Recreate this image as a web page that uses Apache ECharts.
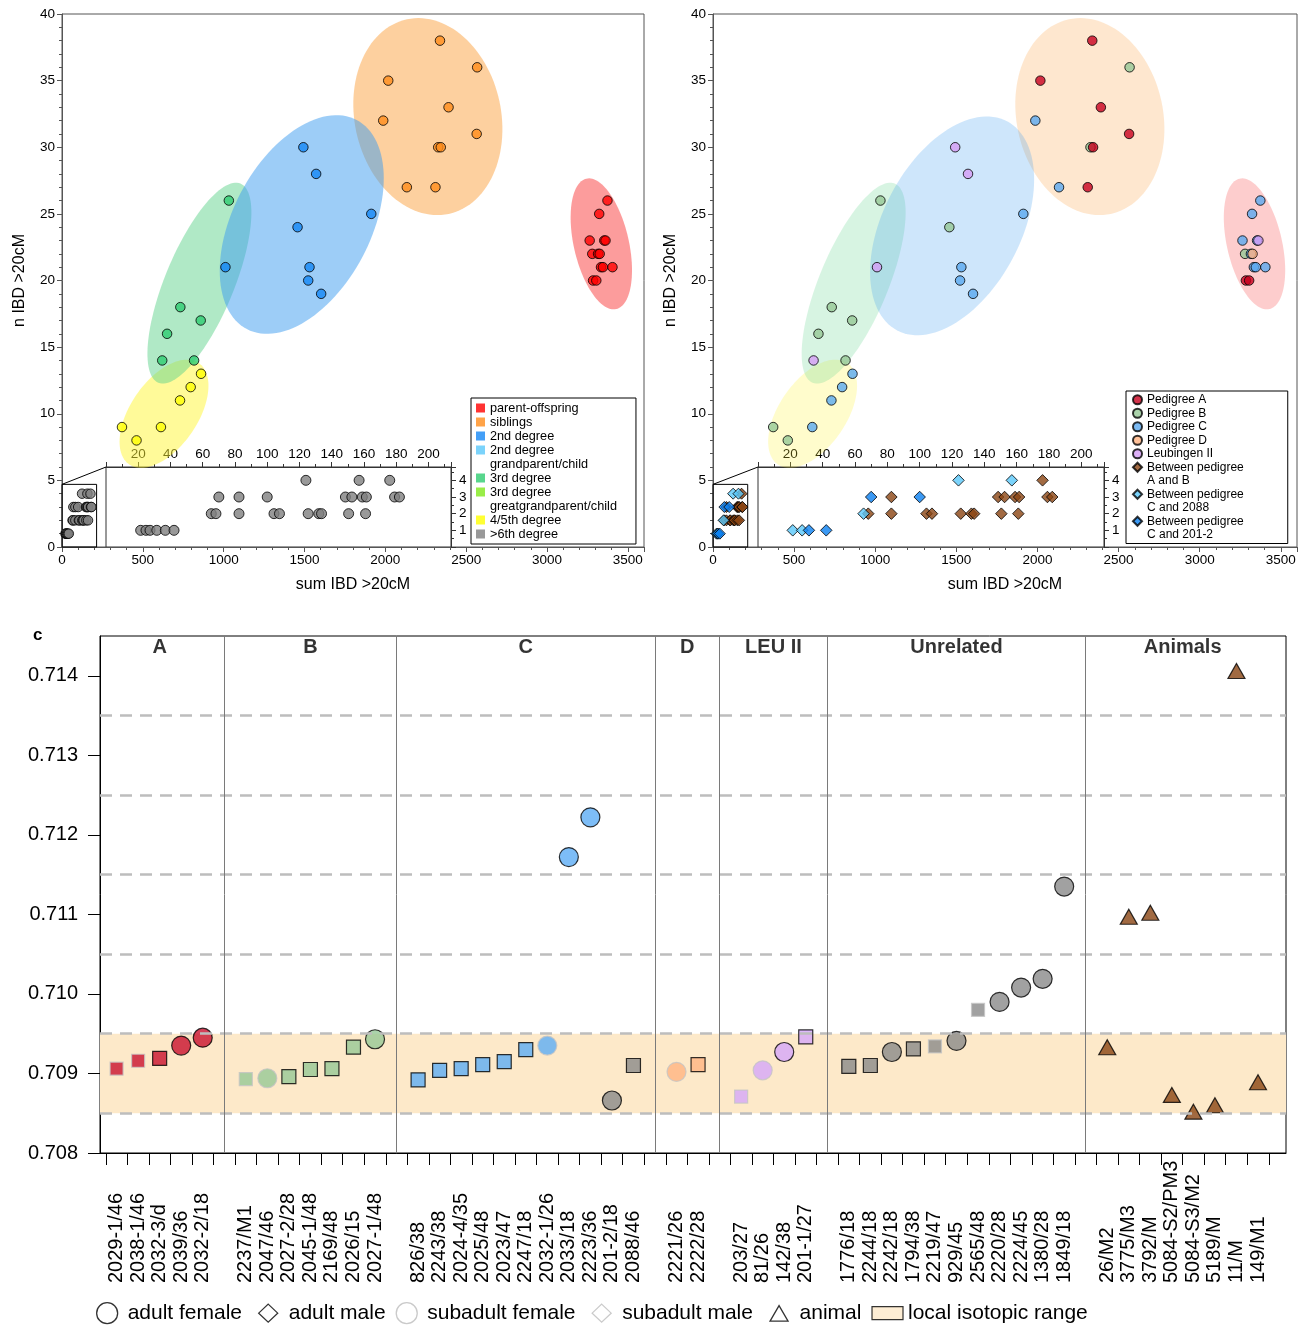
<!DOCTYPE html>
<html>
<head>
<meta charset="utf-8">
<title>IBD sharing and strontium isotopes</title>
<script src="https://cdn.jsdelivr.net/npm/echarts@6/dist/echarts.min.js"></script>
<style>
  html, body { margin: 0; padding: 0; background: #fff; }
  #main { width: 1306px; height: 1325px; }
</style>
</head>
<body>
<div id="main"></div>
<script>
var FONT = '"Liberation Sans", Arial, Helvetica, sans-serif';

// ---------- panels a / b : pairwise IBD sharing ----------
var pairSum = [3374, 3323, 3264, 3354, 3362, 3280, 3316, 3326, 3334, 3346, 3405, 3285, 3305,
  2338, 2568, 2018, 2391, 1987, 2565, 2327, 2343, 2133, 2310,
  1493, 1572, 1913, 1457, 1011, 1531, 1523, 1603,
  1032, 732, 858, 650, 620, 817,
  860, 796, 730, 371, 612, 461,
  21.5, 24.8, 27.3, 31.5, 36.8, 42.2,
  65.3, 68.2, 82.5, 104.2, 107.6, 125.4, 132, 133.7, 150.5, 161,
  70, 82.5, 100, 148.5, 152.5, 159, 161.5, 179, 182,
  124, 157, 176];
var pairN = [26, 25, 23, 23, 23, 22, 22, 22, 21, 21, 21, 20, 20,
  38, 36, 35, 33, 32, 31, 30, 30, 27, 27,
  30, 28, 25, 24, 21, 21, 20, 19,
  26, 18, 17, 16, 14, 14,
  13, 12, 11, 9, 9, 8,
  1, 1, 1, 1, 1, 1,
  2, 2, 2, 2, 2, 2, 2, 2, 2, 2,
  3, 3, 3, 3, 3, 3, 3, 3, 3,
  4, 4, 4];
var pairDegree = ['po', 'po', 'po', 'po', 'po', 'po', 'po', 'po', 'po', 'po', 'po', 'po', 'po',
  'sib', 'sib', 'sib', 'sib', 'sib', 'sib', 'sib', 'sib', 'sib', 'sib',
  '2nd', '2nd', '2nd', '2nd', '2nd', '2nd', '2nd', '2nd',
  '3rd', '3rd', '3rd', '3rd', '3rd', '3rd',
  '45', '45', '45', '45', '45', '45',
  '6', '6', '6', '6', '6', '6',
  '6', '6', '6', '6', '6', '6', '6', '6', '6', '6',
  '6', '6', '6', '6', '6', '6', '6', '6', '6',
  '6', '6', '6'];
var pairPedigree = ['C', 'C', 'C', 'C', 'L', 'B', 'C', 'D', 'C', 'C', 'C', 'A', 'A',
  'A', 'B', 'A', 'A', 'C', 'A', 'B', 'A', 'C', 'A',
  'L', 'L', 'C', 'B', 'L', 'C', 'C', 'C',
  'B', 'B', 'B', 'B', 'L', 'B',
  'C', 'C', 'C', 'B', 'C', 'B',
  'C2088', '', 'C2088', 'C201', '', 'C201',
  'C2088', 'AB', 'AB', 'AB', 'AB', 'AB', 'AB', 'AB', 'AB', 'AB',
  'C201', 'AB', 'C201', 'AB', 'AB', 'AB', 'AB', 'AB', 'AB',
  'C2088', 'C2088', 'AB'];

var degreeKeys = ['po', 'sib', '2nd', '2gp', '3rd', '3ggp', '45', '6'];
var degreeNames = ['parent-offspring', 'siblings', '2nd degree', '2nd degree#gp', '3rd degree',
  '3rd degree#ggp', '4/5th degree', '>6th degree'];
var degreeColours = ['#ff0000', '#ff8c1a', '#1487f5', '#5ac8fa', '#2ecc71', '#80e81a', '#ffff00', '#808080'];

// drawing order (B under A etc.)
var pedKeys = ['B', 'C', 'A', 'D', 'L', 'AB', 'C2088', 'C201'];
var pedNames = ['Pedigree B', 'Pedigree C', 'Pedigree A', 'Pedigree D', 'Leubingen II',
  'Between pedigree#AB', 'Between pedigree#C2088', 'Between pedigree#C201'];
var pedColours = ['#96c896', '#5aa9f0', '#c8001e', '#ffb27f', '#d49cf5', '#8b4513', '#5ac8fa', '#0a7ff0'];

// shaded clusters: centre (data), semi axes (px), tilt (deg)  -- order sib, 4/5th, 3rd, 2nd, po
var ellipseColours = ['#fba13f', '#fff533', '#61d38d', '#3b9cf0', '#f93939'];
var ellipsesLeft = [[2263, 32.3, 99.5, 73.2, -77.9], [631, 10.0, 61.5, 33.5, 55.5],
  [850, 19.8, 107.7, 34.5, 67.6], [1483, 24.2, 118.1, 68.8, 62.3], [3336, 22.75, 66.9, 27.5, -77.1]];
var ellipsesRight = [[2323, 32.3, 99.5, 73.2, -77.9], [614, 10.0, 61.5, 33.5, 55.5],
  [867, 19.8, 107.7, 34.5, 67.6], [1474, 24.1, 118.1, 68.8, 62.3], [3338, 22.75, 66.9, 27.5, -77.1]];

var smallBox = [214, 4.7];
var insetMax = [214, 4.8];

// ---------- panel c : 87Sr/86Sr ----------
var groupNames = ['A', 'B', 'C', 'D', 'LEU II', 'Unrelated', 'Animals'];
var sampleLabels = [
  ['2029-1/46', '2038-1/46', '2032-3/d', '2039/36', '2032-2/18'],
  ['2237/M1', '2047/46', '2027-2/28', '2045-1/48', '2169/48', '2026/15', '2027-1/48'],
  ['826/38', '2243/38', '2024-4/35', '2025/48', '2023/47', '2247/18', '2032-1/26', '2033/18', '2223/36', '201-2/18', '2088/46'],
  ['2221/26', '2222/28'],
  ['203/27', '81/26', '142/38', '201-1/27'],
  ['1776/18', '2244/18', '2242/18', '1794/38', '2219/47', '929/45', '2565/48', '2220/28', '2224/45', '1380/28', '1849/18'],
  ['26/M2', '3775/M3', '3792/M', '5084-S2/PM3', '5084-S3/M2', '5189/M', '11/M', '149/M1']
];
var srValues = [
  [0.70906, 0.70916, 0.70919, 0.70935, 0.70945],
  [0.70893, 0.70894, 0.70896, 0.70905, 0.70906, 0.70933, 0.70943],
  [0.70892, 0.70904, 0.70906, 0.70911, 0.70915, 0.70930, 0.70935, 0.71172, 0.71222, 0.70866, 0.70910],
  [0.70902, 0.70911],
  [0.70871, 0.70904, 0.70927, 0.70946],
  [0.70909, 0.70910, 0.70927, 0.70931, 0.70934, 0.70941, 0.70980, 0.70990, 0.71008, 0.71019, 0.71135],
  [0.70933, 0.71097, 0.71102, 0.70873, 0.70852, 0.70860, 0.71406, 0.70889]
];
var sampleKinds = [
  ['SM', 'SM', 'AM', 'AF', 'AF'],
  ['SM', 'SF', 'AM', 'AM', 'AM', 'AM', 'AF'],
  ['AM', 'AM', 'AM', 'AM', 'AM', 'AM', 'SF', 'AF', 'AF', 'AF', 'AM'],
  ['SF', 'AM'],
  ['SM', 'SF', 'AF', 'AM'],
  ['AM', 'AM', 'AF', 'AM', 'SM', 'AF', 'SM', 'AF', 'AF', 'AF', 'AF'],
  ['AN', 'AN', 'AN', 'AN', 'AN', 'AN', 'AN', 'AN']
];
var sampleColours = [
  ['A', 'A', 'A', 'A', 'A'],
  ['B', 'B', 'B', 'B', 'B', 'B', 'B'],
  ['C', 'C', 'C', 'C', 'C', 'C', 'C', 'C', 'C', 'U', 'U'],
  ['D', 'D'],
  ['L', 'L', 'L', 'L'],
  ['U', 'U', 'U', 'U', 'U', 'U', 'U', 'U', 'U', 'U', 'U'],
  ['N', 'N', 'N', 'N', 'N', 'N', 'N', 'N']
];
var srTicks = [0.708, 0.709, 0.710, 0.711, 0.712, 0.713, 0.714];
var localRange = [0.7085, 0.7095];
var dashLevels = [0.7085, 0.7095, 0.7105, 0.7115, 0.7125, 0.7135];

var colourOf = { A: '#c8102e', B: '#96c896', C: '#5cadf5', D: '#ffb482', L: '#d4a6fa', U: '#8a8a8a', N: '#8a4513' };
var kindKeys = ['AF', 'AM', 'SF', 'SM', 'AN'];
var kindNames = ['adult female', 'adult male', 'subadult female', 'subadult male', 'animal'];
var kindSymbol = ['circle', 'rect', 'circle', 'rect', 'triangle'];
var kindSize = [19, 14, 19, 13, [17, 15]];
var kindBorder = ['#000', '#000', '#c4c4c4', '#c4c4c4', '#000'];

// ---------- helpers ----------
function pairsWhere(codes, key) {
  var out = [];
  for (var i = 0; i < pairSum.length; i++) {
    if (codes[i] === key) out.push([pairSum[i], pairN[i]]);
  }
  return out;
}

function ellipseSeries(cfg, gi, alpha) {
  return {
    type: 'custom', xAxisIndex: gi, yAxisIndex: gi, z: 1, silent: true,
    data: cfg.map(function (e) { return [e[0], e[1]]; }),
    renderItem: function (params, api) {
      var e = cfg[params.dataIndex];
      var c = api.coord([e[0], e[1]]);
      var t = e[4] * Math.PI / 180, pts = [];
      for (var i = 0; i < 120; i++) {
        var u = i / 120 * 2 * Math.PI;
        var x = e[2] * Math.cos(u), y = e[3] * Math.sin(u);
        pts.push([c[0] + x * Math.cos(t) - y * Math.sin(t), c[1] - (x * Math.sin(t) + y * Math.cos(t))]);
      }
      return { type: 'polygon', shape: { points: pts },
        style: { fill: ellipseColours[params.dataIndex], opacity: alpha } };
    }
  };
}

function plain(v) { return String(v); }

function mainAxes(gi) {
  var line = { onZero: false, lineStyle: { color: '#555' } };
  return {
    x: { type: 'value', gridIndex: gi, min: 0, max: 3600, interval: 500,
      name: 'sum IBD >20cM', nameLocation: 'middle', nameGap: 30,
      nameTextStyle: { fontSize: 16, color: '#000' },
      axisLine: line, axisTick: { length: 5, lineStyle: { color: '#555' } },
      minorTick: { show: true, splitNumber: 5, length: 3, lineStyle: { color: '#555' } },
      axisLabel: { fontSize: 13.5, color: '#000', margin: 6, showMaxLabel: false, formatter: plain },
      splitLine: { show: false } },
    y: { type: 'value', gridIndex: gi, min: 0, max: 40, interval: 5,
      name: 'n IBD >20cM', nameLocation: 'middle', nameGap: 34,
      nameTextStyle: { fontSize: 16, color: '#000' },
      axisLine: line, axisTick: { length: 5, lineStyle: { color: '#555' } },
      minorTick: { show: true, splitNumber: 5, length: 3, lineStyle: { color: '#555' } },
      axisLabel: { fontSize: 13.5, color: '#000', margin: 7, formatter: plain },
      splitLine: { show: false } }
  };
}

function insetAxes(gi) {
  var line = { onZero: false, lineStyle: { color: '#333' } };
  return {
    x: { type: 'value', gridIndex: gi, position: 'top', min: 0, max: insetMax[0], interval: 20,
      axisLine: line, axisTick: { length: 5, lineStyle: { color: '#333' } },
      minorTick: { show: true, splitNumber: 2, length: 3, lineStyle: { color: '#333' } },
      axisLabel: { fontSize: 13.5, color: '#000', margin: 6, showMinLabel: false, showMaxLabel: false, formatter: plain },
      splitLine: { show: false } },
    y: { type: 'value', gridIndex: gi, position: 'right', min: 0, max: insetMax[1], interval: 1,
      axisLine: line, axisTick: { length: 5, lineStyle: { color: '#333' } },
      minorTick: { show: true, splitNumber: 2, length: 3, lineStyle: { color: '#333' } },
      axisLabel: { fontSize: 13.5, color: '#000', margin: 8, showMinLabel: false, showMaxLabel: false, formatter: plain },
      splitLine: { show: false } }
  };
}

var boxArea = {
  silent: true,
  itemStyle: { color: 'rgba(0,0,0,0)', borderColor: '#000', borderWidth: 1 },
  data: [[{ coord: [0, 0] }, { coord: [smallBox[0], smallBox[1]] }]]
};

// ---------- series ----------
var series = [];
series.push(ellipseSeries(ellipsesLeft, 0, 0.5));
series.push(ellipseSeries(ellipsesRight, 2, 0.25));

degreeKeys.forEach(function (k, j) {
  var s = {
    type: 'scatter', name: degreeNames[j], xAxisIndex: 0, yAxisIndex: 0, z: 3,
    data: pairsWhere(pairDegree, k), symbol: 'circle', symbolSize: 9.5,
    itemStyle: { color: degreeColours[j], borderColor: '#000', borderWidth: 1 }
  };
  if (k === '6') s.markArea = boxArea;
  series.push(s);
});
series.push({
  type: 'scatter', name: '>6th degree', xAxisIndex: 1, yAxisIndex: 1, z: 3,
  data: pairsWhere(pairDegree, '6'), symbol: 'circle', symbolSize: 10,
  itemStyle: { color: '#808080', borderColor: '#000', borderWidth: 1 }
});
['grandparent/child', 'greatgrandparent/child', 'A and B', 'C and 2088', 'C and 201-2'].forEach(function (n, i) {
  series.push({ type: 'scatter', name: n, xAxisIndex: i < 2 ? 0 : 2, yAxisIndex: i < 2 ? 0 : 2, data: [],
    itemStyle: { color: 'rgba(0,0,0,0)' } });
});

pedKeys.forEach(function (k, j) {
  var diamond = j >= 5;
  var s = {
    type: 'scatter', name: pedNames[j], xAxisIndex: 2, yAxisIndex: 2, z: 3,
    data: pairsWhere(pairPedigree, k), symbol: diamond ? 'diamond' : 'circle',
    symbolSize: diamond ? 11 : 9.5,
    itemStyle: { color: pedColours[j], borderColor: '#000', borderWidth: 1 }
  };
  if (k === 'AB') s.markArea = boxArea;
  series.push(s);
  if (diamond) {
    series.push({
      type: 'scatter', name: pedNames[j], xAxisIndex: 3, yAxisIndex: 3, z: 3,
      data: pairsWhere(pairPedigree, k), symbol: 'diamond', symbolSize: 11.5,
      itemStyle: { color: pedColours[j], borderColor: '#000', borderWidth: 1 }
    });
  }
});

// panel c slot positions: one empty slot between groups
var slotOf = [], slotLabel = {}, gapSlots = [], groupCentre = [];
var k = 0;
sampleLabels.forEach(function (labels, g) {
  if (g > 0) { gapSlots.push(k); k++; }
  var first = k;
  slotOf.push(labels.map(function (lab) { slotLabel[k] = lab; return k++; }));
  groupCentre.push((first + k - 1) / 2);
});
var labelSlots = Object.keys(slotLabel).map(Number);
var tickSlots = [];
for (var t = -0.5; t < k; t++) tickSlots.push(t);

series.push({
  type: 'scatter', name: 'local isotopic range', xAxisIndex: 4, yAxisIndex: 4, z: 1, data: [],
  itemStyle: { color: '#fde9c9' },
  markArea: { silent: true, itemStyle: { color: '#fde9c9' },
    data: [[{ yAxis: localRange[0] }, { yAxis: localRange[1] }]] },
  markLine: { silent: true, precision: 6, symbol: ['none', 'none'], label: { show: false },
    data: dashLevels.map(function (v) {
      return { yAxis: v, lineStyle: { color: '#bdbdbd', width: 2.5, type: [12, 8] } };
    }).concat(gapSlots.map(function (s) {
      return { xAxis: s, lineStyle: { color: '#7a7a7a', width: 1, type: 'solid' } };
    })) }
});

kindKeys.forEach(function (kk, j) {
  var data = [];
  sampleLabels.forEach(function (labels, g) {
    labels.forEach(function (lab, i) {
      if (sampleKinds[g][i] !== kk) return;
      data.push({ name: lab, value: [slotOf[g][i], srValues[g][i]],
        itemStyle: { color: colourOf[sampleColours[g][i]] } });
    });
  });
  series.push({
    type: 'scatter', name: kindNames[j], xAxisIndex: 4, yAxisIndex: 4, z: 4,
    symbol: kindSymbol[j], symbolSize: kindSize[j], data: data,
    itemStyle: { borderColor: kindBorder[j], borderWidth: 1.2 }
  });
});

series.push({
  type: 'scatter', name: 'groups', xAxisIndex: 4, yAxisIndex: 4, z: 5, symbolSize: 0, silent: true,
  data: groupNames.map(function (n, g) { return { name: n, value: [groupCentre[g], 0.7145] }; }),
  label: { show: true, position: 'bottom', distance: 1, formatter: '{b}',
    fontSize: 20, fontWeight: 'bold', color: '#000' }
});

// ---------- axes ----------
var aL = mainAxes(0), iL = insetAxes(1), aR = mainAxes(2), iR = insetAxes(3);
var xAxes = [aL.x, iL.x, aR.x, iR.x, {
  type: 'value', gridIndex: 4, min: -0.77, max: 54.3, splitLine: { show: false },
  axisLine: { onZero: false, lineStyle: { color: '#000' } },
  axisTick: { customValues: tickSlots, length: 12, lineStyle: { color: '#000' } },
  axisLabel: { customValues: labelSlots, formatter: function (v) { return slotLabel[Math.round(v)] || ''; },
    rotate: 90, align: 'left', verticalAlign: 'middle', margin: 130, fontSize: 20, color: '#000' }
}];
var yAxes = [aL.y, iL.y, aR.y, iR.y, {
  type: 'value', gridIndex: 4, min: 0.708, max: 0.7145, splitLine: { show: false },
  axisLine: { show: true, onZero: false, lineStyle: { color: '#000' } },
  axisTick: { customValues: srTicks, length: 12, lineStyle: { color: '#000' } },
  axisLabel: { customValues: srTicks, formatter: function (v) { return v.toFixed(3); },
    fontSize: 20, color: '#000', margin: 22 }
}];

function splitName(n) { return n.split('#')[0]; }
var blankIcon = { icon: 'none', itemStyle: { opacity: 0 } };
var BOX = 'path://M0,0M31,21';

var option = {
  animation: false,
  backgroundColor: '#fff',
  textStyle: { fontFamily: FONT },
  title: { text: 'c', left: 28, top: 622, textStyle: { fontSize: 17, fontWeight: 'bold', color: '#000', fontFamily: FONT } },
  grid: [
    { left: 62, top: 14, width: 582, height: 533, show: true, borderColor: '#555', borderWidth: 1 },
    { left: 106, top: 467, width: 345, height: 80, show: true, borderColor: '#333', borderWidth: 1, backgroundColor: '#fff' },
    { left: 713, top: 14, width: 584, height: 533, show: true, borderColor: '#555', borderWidth: 1 },
    { left: 758, top: 467, width: 346, height: 80, show: true, borderColor: '#333', borderWidth: 1, backgroundColor: '#fff' },
    { left: 100, top: 636, width: 1186, height: 517, show: true, borderColor: '#000', borderWidth: 1 }
  ],
  xAxis: xAxes,
  yAxis: yAxes,
  legend: [
    {
      orient: 'vertical', left: 471, top: 398, padding: [3, 19, 3, 5], itemGap: 0,
      itemWidth: 9, itemHeight: 9, icon: 'rect', borderColor: '#000', borderWidth: 1, backgroundColor: '#fff',
      itemStyle: { borderWidth: 0 }, formatter: splitName, selectedMode: false,
      textStyle: { fontSize: 12.7, lineHeight: 14, color: '#000', fontFamily: FONT },
      data: [{ name: 'parent-offspring' }, { name: 'siblings' }, { name: '2nd degree' },
        { name: '2nd degree#gp' }, Object.assign({ name: 'grandparent/child' }, blankIcon),
        { name: '3rd degree' }, { name: '3rd degree#ggp' }, Object.assign({ name: 'greatgrandparent/child' }, blankIcon),
        { name: '4/5th degree' }, { name: '>6th degree' }]
    },
    {
      orient: 'vertical', left: 1126, top: 391, padding: [2, 44, 2, 6], itemGap: 0,
      itemWidth: 9, itemHeight: 9, borderColor: '#000', borderWidth: 1, backgroundColor: '#fff',
      formatter: splitName, selectedMode: false,
      textStyle: { fontSize: 12, lineHeight: 13.5, color: '#000', fontFamily: FONT },
      data: [{ name: 'Pedigree A', icon: 'circle' }, { name: 'Pedigree B', icon: 'circle' },
        { name: 'Pedigree C', icon: 'circle' }, { name: 'Pedigree D', icon: 'circle' },
        { name: 'Leubingen II', icon: 'circle' },
        { name: 'Between pedigree#AB', icon: 'diamond' }, Object.assign({ name: 'A and B' }, blankIcon),
        { name: 'Between pedigree#C2088', icon: 'diamond' }, Object.assign({ name: 'C and 2088' }, blankIcon),
        { name: 'Between pedigree#C201', icon: 'diamond' }, Object.assign({ name: 'C and 201-2' }, blankIcon)]
    },
    {
      orient: 'horizontal', left: 96, top: 1302, itemWidth: 31, itemHeight: 21, itemGap: 10, padding: 0,
      selectedMode: false,
      textStyle: { fontSize: 21, color: '#000', fontFamily: FONT },
      data: [
        { name: 'adult female', icon: 'circle', itemStyle: { color: '#fff', borderColor: '#000', borderWidth: 1.3 } },
        { name: 'adult male', icon: BOX + 'M15.5,1.5L25,10.5L15.5,19.5L6,10.5Z', itemStyle: { color: '#fff', borderColor: '#000', borderWidth: 1.3 } },
        { name: 'subadult female', icon: 'circle', itemStyle: { color: '#fff', borderColor: '#bdbdbd', borderWidth: 1.3 } },
        { name: 'subadult male', icon: BOX + 'M15.5,1.5L25,10.5L15.5,19.5L6,10.5Z', itemStyle: { color: '#fff', borderColor: '#bdbdbd', borderWidth: 1.3 } },
        { name: 'animal', icon: BOX + 'M15.5,3L24.5,18.5L6.5,18.5Z', itemStyle: { color: '#fff', borderColor: '#000', borderWidth: 1.3 } },
        { name: 'local isotopic range', icon: BOX + 'M0,4H31V17H0Z', itemStyle: { color: '#fde9c9', borderColor: '#000', borderWidth: 1.2 } }
      ]
    }
  ],
  series: series
};

var chart = echarts.init(document.getElementById('main'), null, { renderer: 'canvas' });
chart.setOption(option);

// zoom connectors: small box corner -> inset corner
var connectors = [[0, 1], [2, 3]].map(function (p) {
  var a = chart.convertToPixel({ gridIndex: p[0] }, [0, smallBox[1]]);
  var b = chart.convertToPixel({ gridIndex: p[1] }, [0, insetMax[1]]);
  return { type: 'line', silent: true, z: 10,
    shape: { x1: a[0], y1: a[1], x2: b[0], y2: b[1] }, style: { stroke: '#000', lineWidth: 1 } };
});
chart.setOption({ graphic: connectors });
</script>
</body>
</html>
